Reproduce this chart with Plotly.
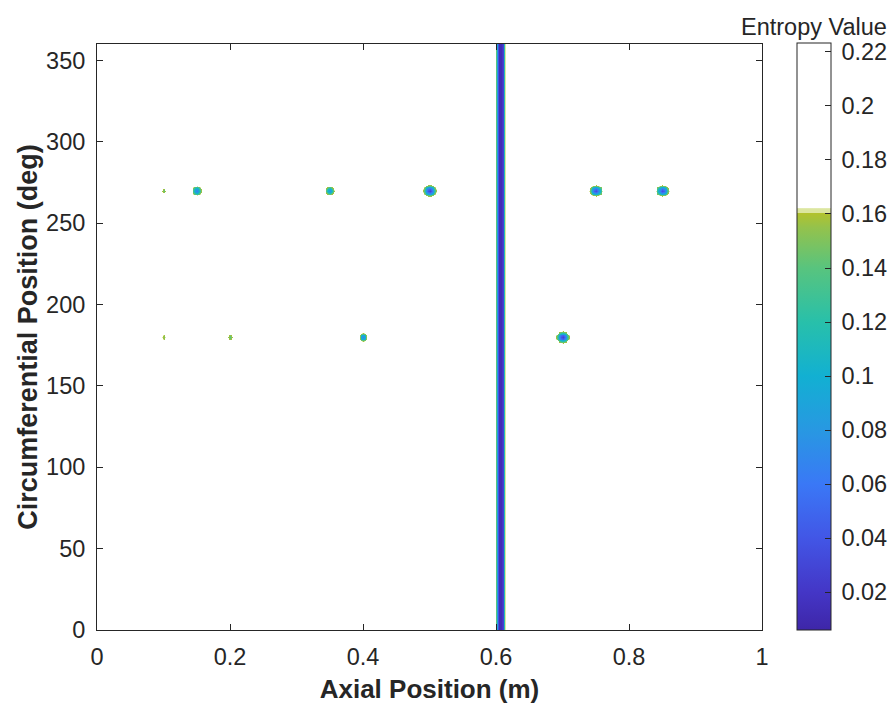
import numpy as np
import plotly.graph_objects as go

# ---- data ----
x_ticks = [0, 0.2, 0.4, 0.6, 0.8, 1]
x_tick_labels = ["0", "0.2", "0.4", "0.6", "0.8", "1"]
y_ticks = [0, 50, 100, 150, 200, 250, 300, 350]
y_tick_labels = ["0", "50", "100", "150", "200", "250", "300", "350"]
cb_ticks = [0.02, 0.04, 0.06, 0.08, 0.10, 0.12, 0.14, 0.16, 0.18, 0.20, 0.22]
cb_tick_labels = ["0.02", "0.04", "0.06", "0.08", "0.1", "0.12", "0.14", "0.16", "0.18", "0.2", "0.22"]

background_entropy = 0.2233
entropy_min = 0.006

# circumferential band (full 0-360 deg)
band_x = 0.6065
band_min = 0.012
band_halfwidth = 0.0070

# localized low-entropy spots
spot_x = [0.10, 0.15, 0.35, 0.50, 0.75, 0.85, 0.10, 0.20, 0.40, 0.70]
spot_y = [270, 270, 270, 270, 270, 270, 180, 180, 180, 180]
spot_min = [0.140, 0.065, 0.075, 0.028, 0.036, 0.036, 0.150, 0.140, 0.070, 0.028]
spot_rx = [0.0027, 0.0068, 0.0064, 0.0105, 0.0100, 0.0100, 0.0026, 0.0028, 0.0058, 0.0105]
spot_ry = [1.5, 3.0, 2.6, 3.7, 3.5, 3.5, 1.4, 1.5, 2.6, 3.5]

# colour map (entropy value, colour)
cmap_vals = [0.006, 0.02, 0.04, 0.06, 0.08, 0.10, 0.12, 0.14, 0.155, 0.1603, 0.1605, 0.1620, 0.1622, 0.2233]
cmap_cols = ["#3e26a8", "#4436c6", "#4256e6", "#3a78f6", "#2898e2", "#12b0d2", "#28c0aa",
             "#58c47e", "#94c24c", "#b2c22e", "#dce6a0", "#dce6a0", "#ffffff", "#ffffff"]

# ---- build entropy map on measurement grid ----
xg = np.linspace(0, 1, 401)
yg = np.linspace(0, 360, 361)
X, Y = np.meshgrid(xg, yg)
thr = 0.162
Z = np.full(X.shape, background_entropy)

u_vis = (np.log((background_entropy - band_min) / (background_entropy - thr))) ** 0.25
s = band_halfwidth / u_vis
Z = np.minimum(Z, background_entropy - (background_entropy - band_min) * np.exp(-((X - band_x) / s) ** 4))

for sx, sy, vm, rx, ry in zip(spot_x, spot_y, spot_min, spot_rx, spot_ry):
    uv = np.sqrt(np.log((background_entropy - vm) / (background_entropy - thr)))
    ax_, ay_ = rx / uv, ry / uv
    d = ((X - sx) / ax_) ** 2 + ((Y - sy) / ay_) ** 2
    Z = np.minimum(Z, background_entropy - (background_entropy - vm) * np.exp(-d))

zmin, zmax = entropy_min, background_entropy
colorscale = [[(v - zmin) / (zmax - zmin), c] for v, c in zip(cmap_vals, cmap_cols)]
colorscale[0][0] = 0.0
colorscale[-1][0] = 1.0

W, H = 893, 713
L, R, T, B = 97, 762, 44, 630
txt = "#262626"
font = "Liberation Sans, Arial, Helvetica, sans-serif"
TICK = 23.5
LAB = 26

fig = go.Figure(go.Heatmap(
    x=xg, y=yg, z=Z, zmin=zmin, zmax=zmax, colorscale=colorscale, zsmooth="best",
    colorbar=dict(
        x=(797 - L) / (R - L), xanchor="left", y=0, yanchor="bottom",
        lenmode="fraction", len=(631 - 44) / (B - T), thickness=34, thicknessmode="pixels",
        xpad=0, ypad=0, outlinewidth=1, outlinecolor=txt,
        ticks="inside", ticklen=6, tickcolor=txt, tickwidth=1,
        tickvals=cb_ticks, ticktext=["\u2009" + t for t in cb_tick_labels],
        tickfont=dict(size=TICK, color=txt, family=font),
    ),
))

axis_common = dict(showline=True, linecolor=txt, linewidth=1, mirror="ticks", ticks="inside",
                   ticklen=6, tickcolor=txt, tickwidth=1, showgrid=False, zeroline=False,
                   tickfont=dict(size=TICK, color=txt, family=font))
fig.update_xaxes(range=[0, 1], tickvals=x_ticks, ticktext=x_tick_labels, ticklabelstandoff=6,
                 title=dict(text="<b>Axial Position (m)</b>", font=dict(size=LAB, color=txt, family=font), standoff=10),
                 **axis_common)
fig.update_yaxes(range=[0, 360], tickvals=y_ticks, ticktext=y_tick_labels, ticklabelstandoff=6,
                 title=dict(text="<b>Circumferential Position (deg)</b>", font=dict(size=27, color=txt, family=font), standoff=0),
                 **axis_common)
fig.add_annotation(text="Entropy Value", xref="paper", yref="paper",
                   x=(814 - L) / (R - L), y=(B - 27) / (B - T), xanchor="center", yanchor="middle",
                   showarrow=False, font=dict(size=23.5, color=txt, family=font))
fig.update_layout(width=W, height=H, margin=dict(l=L, r=W - R, t=T, b=H - B, autoexpand=False),
                  plot_bgcolor="white", paper_bgcolor="white", font=dict(family=font, color=txt))
fig.write_html("out.html")
